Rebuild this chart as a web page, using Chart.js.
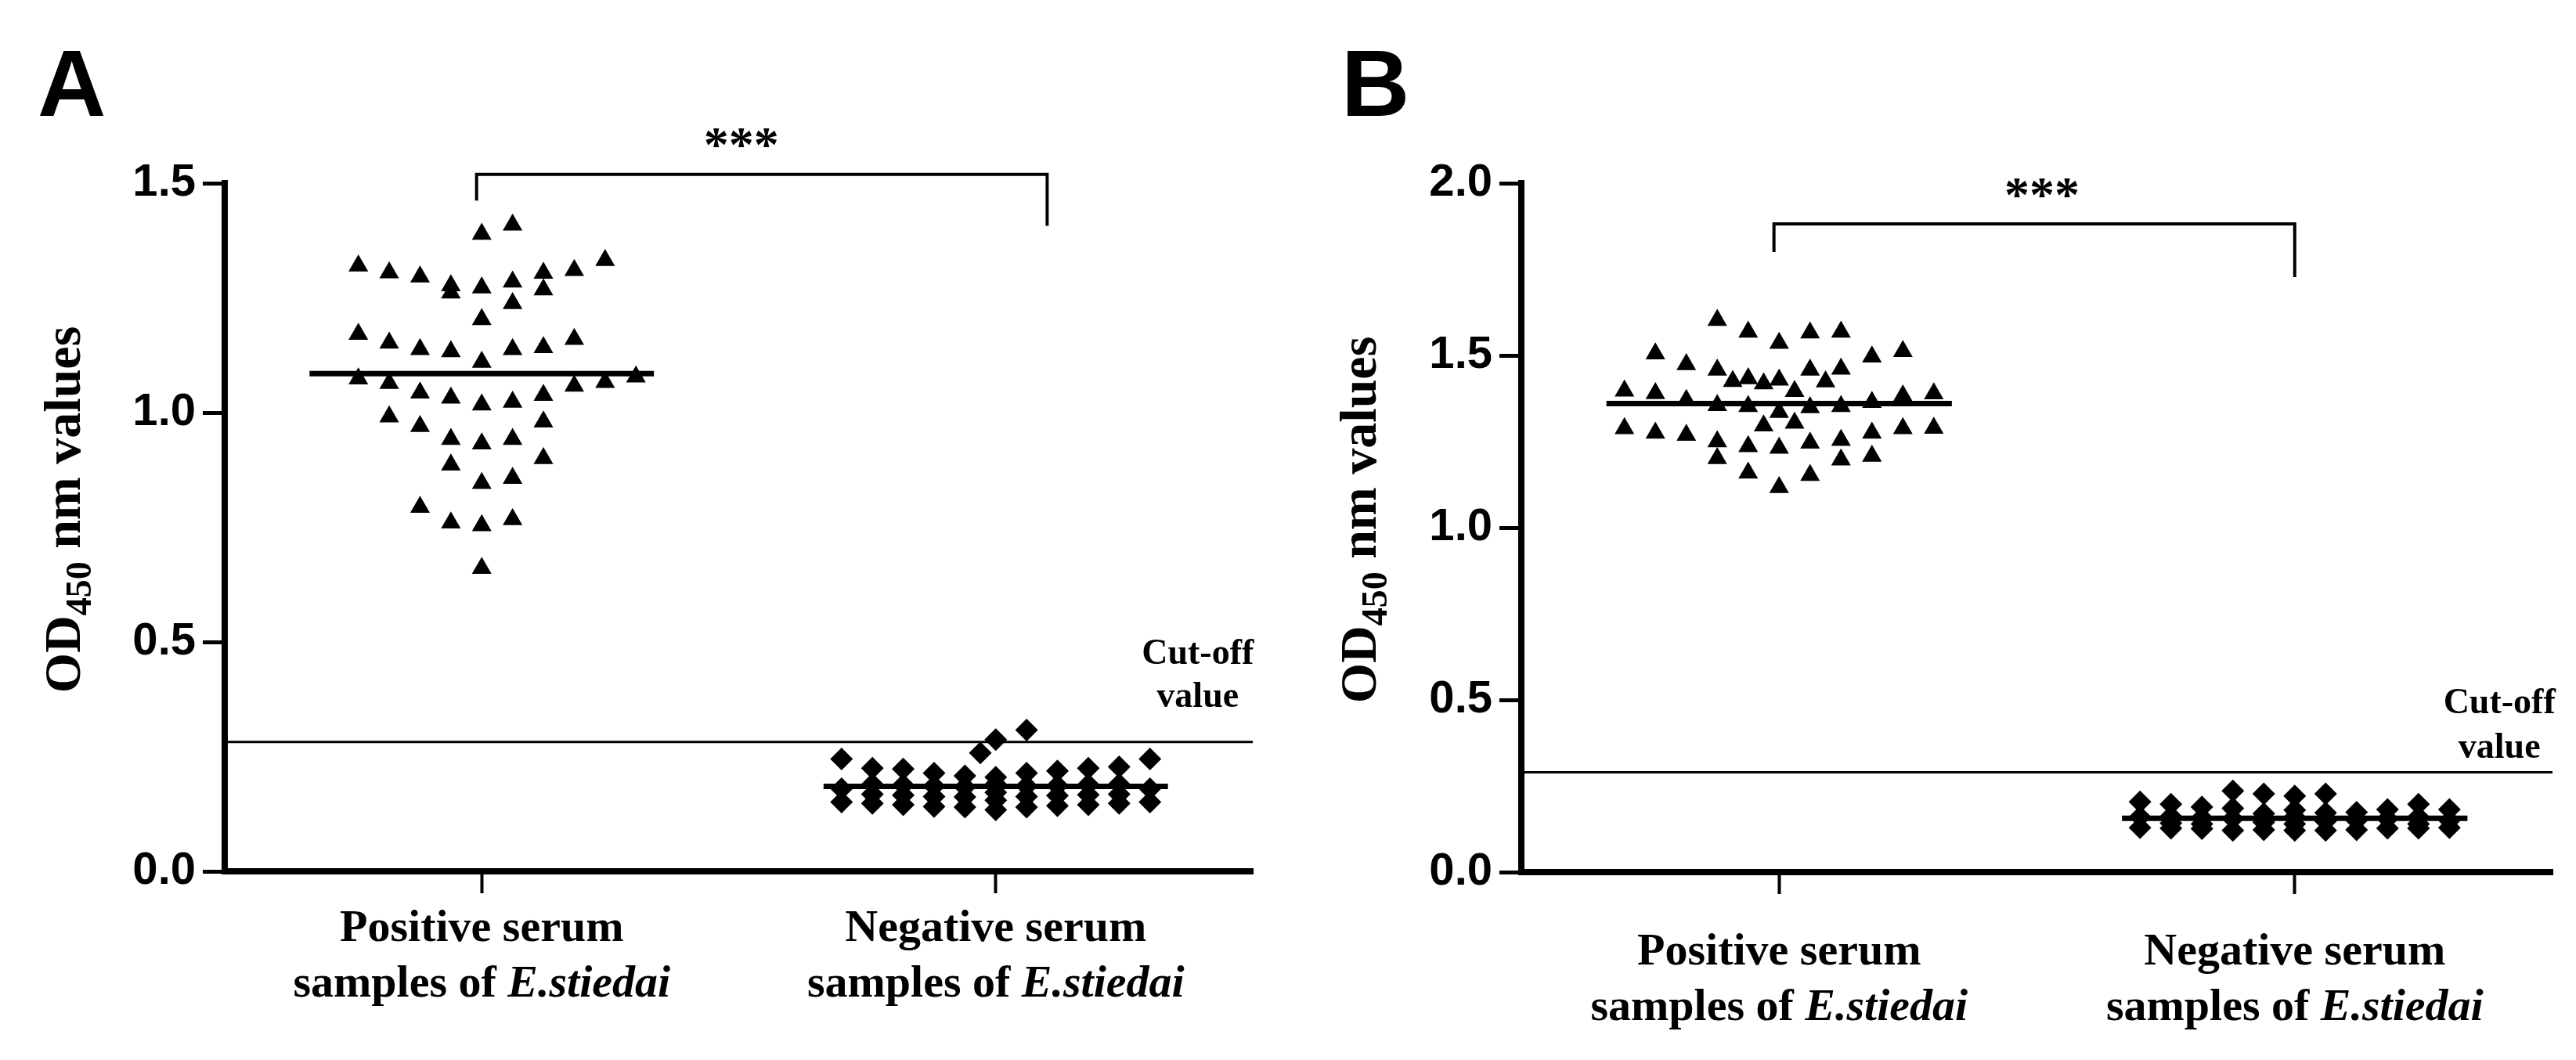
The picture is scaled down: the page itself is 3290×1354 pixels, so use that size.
<!DOCTYPE html>
<html>
<head>
<meta charset="utf-8">
<script src="https://cdn.jsdelivr.net/npm/chart.js@4.4.1/dist/chart.umd.min.js"></script>
<style>
  html, body { margin: 0; padding: 0; background: #fff; }
  #wrap { width: 3290px; height: 1354px; display: flex; }
  canvas { display: block; }
</style>
</head>
<body>
<div id="wrap">
  <canvas id="chartA" width="1645" height="1354"></canvas>
  <canvas id="chartB" width="1645" height="1354"></canvas>
</div>
<script>
// group labels: first line, second line plain part, italic species name
var groupNames = [
  ["Positive serum", "samples of ", "E.stiedai"],
  ["Negative serum", "samples of ", "E.stiedai"]
];
var yTicksA = [0, 0.5, 1.0, 1.5];
var yTicksB = [0, 0.5, 1.0, 1.5, 2.0];

// panel A - positive sera (column slot in the scatter, OD450)
var posACols = [0, 1, -4, -3, -2, -1, -1, 0, 1, 2, 2, 3, 4, 1, 0, -4, -3, -2, -1, 0, 1, 2, 3, -4,
  -3, 3, 4, 5, -2, -1, 0, 1, 2, -3, -2, 2, -1, 0, 1, -1, 2, 0, 1, -2, -1, 0, 1, 0];
var posAValues = [1.389, 1.409, 1.320, 1.305, 1.296, 1.277, 1.261, 1.272, 1.285, 1.304, 1.268, 1.310,
  1.332, 1.238, 1.203, 1.171, 1.152, 1.138, 1.133, 1.110, 1.138, 1.142, 1.160, 1.074, 1.064, 1.058,
  1.066, 1.078, 1.043, 1.032, 1.017, 1.023, 1.038, 0.991, 0.970, 0.980, 0.942, 0.932, 0.942, 0.886,
  0.900, 0.846, 0.857, 0.794, 0.760, 0.754, 0.767, 0.661];

// panel A - negative sera
var negACols = [-5, -5, -5, -4, -4, -4, -4, -3, -3, -3, -3, -2, -2, -2, -2, -1, -1, -1, -1, -0.5,
  0, 0, 0, 0, 0, 0, 1, 1, 1, 1, 1, 2, 2, 2, 2, 3, 3, 3, 3, 4, 4, 4, 4, 5, 5, 5];
var negAValues = [0.245, 0.180, 0.151, 0.225, 0.190, 0.168, 0.148, 0.223, 0.188, 0.166, 0.145,
  0.214, 0.186, 0.163, 0.141, 0.208, 0.184, 0.162, 0.140, 0.258, 0.287, 0.205, 0.190, 0.172, 0.155,
  0.134, 0.308, 0.214, 0.186, 0.163, 0.140, 0.219, 0.187, 0.165, 0.143, 0.225, 0.189, 0.167, 0.145,
  0.228, 0.190, 0.168, 0.148, 0.245, 0.180, 0.151];

// panel B - positive sera
var posBCols = [-2, -1, 0, 1, 2, -4, -3, 3, 4, -2, 1, 2, -1.5, -1, -0.5, 0, 1.5, 0.5, -5, -4, 4, 5,
  -3, -2, -1, 1, 2, 3, 0, -0.5, 0.5, -5, -4, -3, 4, 5, 3, -2, -1, 0, 1, 2, -2, 2, 3, -1, 1, 0];
var posBValues = [1.602, 1.568, 1.536, 1.566, 1.568, 1.505, 1.474, 1.496, 1.512, 1.458, 1.458, 1.461,
  1.425, 1.433, 1.418, 1.429, 1.424, 1.396, 1.397, 1.390, 1.383, 1.389, 1.370, 1.355, 1.352, 1.349,
  1.352, 1.364, 1.335, 1.296, 1.304, 1.288, 1.275, 1.269, 1.288, 1.289, 1.275, 1.250, 1.236, 1.231,
  1.246, 1.254, 1.201, 1.197, 1.208, 1.159, 1.152, 1.117];

// panel B - negative sera
var negBCols = [-5, -5, -5, -4, -4, -4, -4, -3, -3, -3, -3, -2, -2, -2, -2, -1, -1, -1, -1,
  0, 0, 0, 0, 0, 1, 1, 1, 1, 2, 2, 2, 3, 3, 3, 4, 4, 4, 4, 5, 5, 5];
var negBValues = [0.204, 0.160, 0.129, 0.197, 0.162, 0.142, 0.127, 0.189, 0.158, 0.140, 0.126,
  0.236, 0.185, 0.155, 0.121, 0.227, 0.170, 0.145, 0.123, 0.221, 0.180, 0.160, 0.140, 0.121,
  0.227, 0.172, 0.148, 0.121, 0.174, 0.150, 0.123, 0.182, 0.155, 0.127, 0.197, 0.160, 0.140, 0.127,
  0.182, 0.150, 0.129];

// group means (positive, negative) and cut-off values
var meansA = [1.085, 0.185];
var meansB = [1.36, 0.156];
var cutoffA = 0.282;
var cutoffB = 0.29;

// significance bracket: x of both legs, y of the bar, y where each leg ends
var bracketAX = [0.99, 2.10];
var bracketAY = [1.519, 1.462, 1.407];
var bracketBX = [0.99, 2.0];
var bracketBY = [1.882, 1.80, 1.727];

var SERIF = '"Liberation Serif", "Times New Roman", serif';
var SANS = '"Liberation Sans", Arial, sans-serif';
var JITTER = 0.06;     // x units between neighbouring point columns
var MEAN_HALF = 0.335; // half length of the mean bars

function scatterPoints(cols, vals, center) {
  return vals.map(function (v, i) { return { x: center + cols[i] * JITTER, y: v }; });
}

function lineSet(pts, width) {
  return {
    data: pts, showLine: true, borderColor: '#000', borderWidth: width,
    pointRadius: 0, clip: false, tension: 0
  };
}

function markerSet(pts, style) {
  return {
    data: pts, pointStyle: style, pointRadius: 14.5, pointHoverRadius: 14.5,
    backgroundColor: '#000', borderColor: '#000', borderWidth: 0, showLine: false
  };
}

function buildPanel(id, p) {
  var annotate = {
    id: 'annotate',
    afterDraw: function (chart) {
      var c = chart.ctx, xs = chart.scales.x, ys = chart.scales.y;
      c.save();
      c.fillStyle = '#000';

      // panel letter
      c.font = 'bold 121px ' + SANS;
      c.textAlign = 'left';
      c.textBaseline = 'alphabetic';
      c.fillText(p.letter, p.letterX, 148);

      // y axis title with subscript
      c.save();
      c.translate(p.titleX, p.titleY);
      c.rotate(-Math.PI / 2);
      var big = 'bold 66px ' + SERIF, small = 'bold 46px ' + SERIF;
      c.font = big;
      var w1 = c.measureText('OD').width, w3 = c.measureText(' nm values').width;
      c.font = small;
      var w2 = c.measureText('450').width;
      var x0 = -(w1 + w2 + w3) / 2;
      c.font = big;
      c.fillText('OD', x0, 22);
      c.font = small;
      c.fillText('450', x0 + w1, 36);
      c.font = big;
      c.fillText(' nm values', x0 + w1 + w2, 22);
      c.restore();

      // group labels under the axis
      groupNames.forEach(function (g, i) {
        var cx = xs.getPixelForValue(i + 1);
        c.font = 'bold 58px ' + SERIF;
        c.textAlign = 'center';
        c.fillText(g[0], cx, ys.bottom + p.labelDy[0]);
        var wa = c.measureText(g[1]).width;
        c.font = 'italic bold 58px ' + SERIF;
        var wb = c.measureText(g[2]).width;
        var left = cx - (wa + wb) / 2;
        c.textAlign = 'left';
        c.font = 'bold 58px ' + SERIF;
        c.fillText(g[1], left, ys.bottom + p.labelDy[1]);
        c.font = 'italic bold 58px ' + SERIF;
        c.fillText(g[2], left + wa, ys.bottom + p.labelDy[1]);
      });

      // significance stars
      c.textAlign = 'center';
      c.font = 'bold 64px ' + SERIF;
      c.fillText('***', xs.getPixelForValue(p.stars[0]), ys.getPixelForValue(p.stars[1]));

      // cut-off label
      c.font = 'bold 46px ' + SERIF;
      c.fillText('Cut-off', xs.getPixelForValue(p.cutLabel[0]), ys.getPixelForValue(p.cutLabel[1]));
      c.fillText('value', xs.getPixelForValue(p.cutLabel[0]), ys.getPixelForValue(p.cutLabel[2]));
      c.restore();
    }
  };

  var bx = p.bracketX, by = p.bracketY;
  return new Chart(document.getElementById(id), {
    type: 'scatter',
    data: {
      datasets: [
        lineSet([{ x: 1 - MEAN_HALF, y: p.means[0] }, { x: 1 + MEAN_HALF, y: p.means[0] }], 7),
        lineSet([{ x: 2 - MEAN_HALF, y: p.means[1] }, { x: 2 + MEAN_HALF, y: p.means[1] }], 7),
        lineSet([{ x: 0.5, y: p.cutoff }, { x: 2.5, y: p.cutoff }], 3),
        lineSet([{ x: bx[0], y: by[1] }, { x: bx[0], y: by[0] }, { x: bx[1], y: by[0] }, { x: bx[1], y: by[2] }], 4),
        markerSet(scatterPoints(p.posCols, p.posVals, 1), 'triangle'),
        markerSet(scatterPoints(p.negCols, p.negVals, 2), 'rectRot')
      ]
    },
    options: {
      responsive: false,
      animation: false,
      devicePixelRatio: 1,
      layout: { autoPadding: false, padding: { left: 0, top: 234, right: p.padRight, bottom: 1354 - p.zeroY - 40 } },
      plugins: { legend: { display: false }, tooltip: { enabled: false } },
      scales: {
        x: {
          type: 'linear', min: 0.5, max: 2.5,
          afterBuildTicks: function (s) { s.ticks = [{ value: 1 }, { value: 2 }]; },
          afterFit: function (s) { s.height = 40; },
          ticks: { display: false },
          grid: { display: true, drawOnChartArea: false, drawTicks: true, tickLength: 28, tickWidth: 4, tickColor: '#000' },
          border: { display: true, width: 8, color: '#000' }
        },
        y: {
          min: 0, max: p.yMax,
          afterBuildTicks: function (s) { s.ticks = p.yTicks.map(function (v) { return { value: v }; }); },
          afterFit: function (s) { s.width = p.axisLeft; },
          ticks: {
            padding: 9, color: '#000',
            font: { family: SANS, size: 58, weight: 'bold' },
            callback: function (v) { return Number(v).toFixed(1); }
          },
          grid: { display: true, drawOnChartArea: false, drawTicks: true, tickLength: 28, tickWidth: 5, tickColor: '#000' },
          border: { display: true, width: 8, color: '#000' }
        }
      }
    },
    plugins: [annotate]
  });
}

buildPanel('chartA', {
  letter: 'A', letterX: 48, titleX: 80, titleY: 651,
  axisLeft: 287, padRight: 45, zeroY: 1113, yMax: 1.5, yTicks: yTicksA,
  posCols: posACols, posVals: posAValues, negCols: negACols, negVals: negAValues,
  means: meansA, cutoff: cutoffA, bracketX: bracketAX, bracketY: bracketAY,
  stars: [1.505, 1.548], cutLabel: [2.393, 0.452, 0.358], labelDy: [89, 160]
});

buildPanel('chartB', {
  letter: 'B', letterX: 68, titleX: 90, titleY: 664,
  axisLeft: 298, padRight: 30, zeroY: 1114, yMax: 2.0, yTicks: yTicksB,
  posCols: posBCols, posVals: posBValues, negCols: negBCols, negVals: negBValues,
  means: meansB, cutoff: cutoffB, bracketX: bracketBX, bracketY: bracketBY,
  stars: [1.51, 1.918], cutLabel: [2.397, 0.461, 0.332], labelDy: [118, 189]
});
</script>
</body>
</html>
